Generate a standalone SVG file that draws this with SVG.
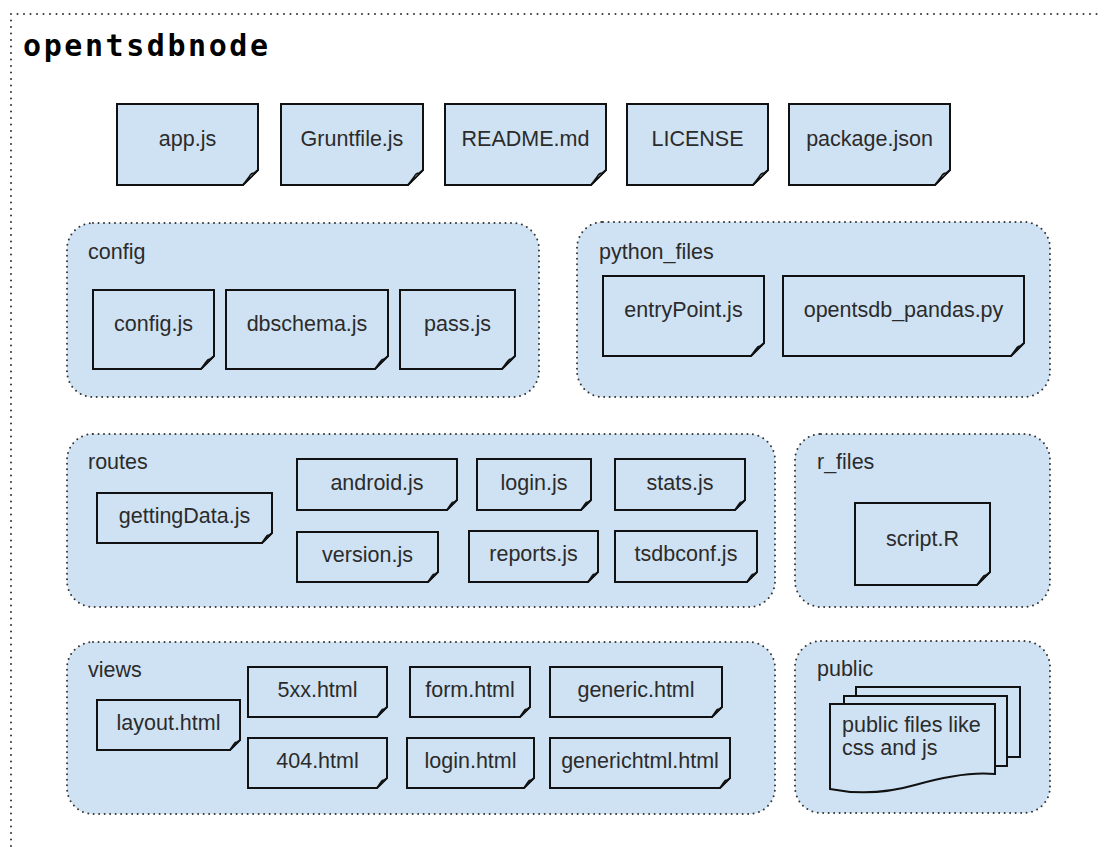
<svg xmlns="http://www.w3.org/2000/svg" width="1103" height="852" viewBox="0 0 1103 852">
<style>
.c{fill:#cfe2f3;stroke:#333;stroke-width:2;stroke-dasharray:0 5.5;stroke-linecap:round}
.f{fill:#cfe2f3;stroke:#111;stroke-width:2}
.fd{fill:#e4eef8;stroke:#111;stroke-width:1.5;stroke-linejoin:round}
.t{font-family:"Liberation Sans",Arial,sans-serif;font-size:21.5px;fill:#2b2b2b;text-anchor:middle}
.l{font-family:"Liberation Sans",Arial,sans-serif;font-size:21.5px;fill:#2b2b2b}
</style>
<rect width="1103" height="852" fill="#fff"/>
<g id="frame">
<path d="M11 14 H1103 M11 14 V852" fill="none" stroke="#333" stroke-width="2" stroke-dasharray="0 6.5" stroke-linecap="round"/>
<text x="23" y="56" font-family="DejaVu Sans Mono,monospace" font-weight="bold" font-size="30" textLength="245" lengthAdjust="spacing" fill="#000">opentsdbnode</text>
</g>
<g id="containers">
<g id="config"><rect class="c" x="67" y="223" width="472" height="174" rx="26"/><text class="l" x="88" y="259">config</text></g>
<g id="python_files"><rect class="c" x="577" y="222" width="473" height="175" rx="26"/><text class="l" x="599" y="259">python_files</text></g>
<g id="routes"><rect class="c" x="67" y="434" width="708" height="173" rx="26"/><text class="l" x="88" y="469">routes</text></g>
<g id="r_files"><rect class="c" x="795" y="434" width="255" height="173" rx="26"/><text class="l" x="817" y="469">r_files</text></g>
<g id="views"><rect class="c" x="67" y="642" width="708" height="172" rx="26"/><text class="l" x="88" y="677">views</text></g>
<g id="public"><rect class="c" x="795" y="641" width="255" height="172" rx="26"/><text class="l" x="817" y="676">public</text></g>
</g>
<g id="files">
<g id="app_js"><path class="f" d="M117 104H258V170L243 185H117Z"/><path class="fd" d="M243 185L249 177Q251 173 254 173L258 170Z"/><text class="t" x="187.5" y="146">app.js</text></g>
<g id="gruntfile_js"><path class="f" d="M281 104H423V170L408 185H281Z"/><path class="fd" d="M408 185L414 177Q416 173 419 173L423 170Z"/><text class="t" x="352" y="146">Gruntfile.js</text></g>
<g id="readme_md"><path class="f" d="M445 104H606V170L591 185H445Z"/><path class="fd" d="M591 185L597 177Q599 173 602 173L606 170Z"/><text class="t" x="525.5" y="146">README.md</text></g>
<g id="license"><path class="f" d="M627 104H768V170L753 185H627Z"/><path class="fd" d="M753 185L759 177Q761 173 764 173L768 170Z"/><text class="t" x="697.5" y="146">LICENSE</text></g>
<g id="package_json"><path class="f" d="M789 104H950V170L935 185H789Z"/><path class="fd" d="M935 185L941 177Q943 173 946 173L950 170Z"/><text class="t" x="869.5" y="146">package.json</text></g>

<g id="config_js"><path class="f" d="M93 290H214V356L201 369H93Z"/><path class="fd" d="M201 369L206 362Q208 359 210 359L214 356Z"/><text class="t" x="153.5" y="331">config.js</text></g>
<g id="dbschema_js"><path class="f" d="M226 290H388V356L375 369H226Z"/><path class="fd" d="M375 369L380 362Q382 359 384 359L388 356Z"/><text class="t" x="307" y="331">dbschema.js</text></g>
<g id="pass_js"><path class="f" d="M400 290H515V356L502 369H400Z"/><path class="fd" d="M502 369L507 362Q509 359 511 359L515 356Z"/><text class="t" x="457.5" y="331">pass.js</text></g>

<g id="entrypoint_js"><path class="f" d="M603 276H764V343L751 356H603Z"/><path class="fd" d="M751 356L756 349Q758 346 760 346L764 343Z"/><text class="t" x="683.5" y="317">entryPoint.js</text></g>
<g id="opentsdb_pandas_py"><path class="f" d="M783 276H1024V343L1011 356H783Z"/><path class="fd" d="M1011 356L1016 349Q1018 346 1020 346L1024 343Z"/><text class="t" x="903.5" y="317">opentsdb_pandas.py</text></g>

<g id="gettingdata_js"><path class="f" d="M97 493H272V533L262 543H97Z"/><path class="fd" d="M262 543L266 537Q267 535 269 535L272 533Z"/><text class="t" x="184.5" y="523">gettingData.js</text></g>
<g id="android_js"><path class="f" d="M297 459H457V500L447 510H297Z"/><path class="fd" d="M447 510L451 504Q452 502 454 502L457 500Z"/><text class="t" x="377" y="490">android.js</text></g>
<g id="login_js"><path class="f" d="M477 459H591V500L581 510H477Z"/><path class="fd" d="M581 510L585 504Q586 502 588 502L591 500Z"/><text class="t" x="534" y="490">login.js</text></g>
<g id="stats_js"><path class="f" d="M615 459H745V500L735 510H615Z"/><path class="fd" d="M735 510L739 504Q740 502 742 502L745 500Z"/><text class="t" x="680" y="490">stats.js</text></g>
<g id="version_js"><path class="f" d="M297 532H438V572L428 582H297Z"/><path class="fd" d="M428 582L432 576Q433 574 435 574L438 572Z"/><text class="t" x="367.5" y="562">version.js</text></g>
<g id="reports_js"><path class="f" d="M469 531H598V572L588 582H469Z"/><path class="fd" d="M588 582L592 576Q593 574 595 574L598 572Z"/><text class="t" x="533.5" y="561">reports.js</text></g>
<g id="tsdbconf_js"><path class="f" d="M615 531H757V572L747 582H615Z"/><path class="fd" d="M747 582L751 576Q752 574 754 574L757 572Z"/><text class="t" x="686" y="561">tsdbconf.js</text></g>

<g id="script_r"><path class="f" d="M855 503H990V572L977 585H855Z"/><path class="fd" d="M977 585L982 578Q984 575 986 575L990 572Z"/><text class="t" x="922.5" y="546">script.R</text></g>

<g id="layout_html"><path class="f" d="M97 700H240V740L230 750H97Z"/><path class="fd" d="M230 750L234 744Q235 742 237 742L240 740Z"/><text class="t" x="168.5" y="730">layout.html</text></g>
<g id="5xx_html"><path class="f" d="M248 667H387V707L377 717H248Z"/><path class="fd" d="M377 717L381 711Q382 709 384 709L387 707Z"/><text class="t" x="317.5" y="697">5xx.html</text></g>
<g id="form_html"><path class="f" d="M410 667H530V707L520 717H410Z"/><path class="fd" d="M520 717L524 711Q525 709 527 709L530 707Z"/><text class="t" x="470" y="697">form.html</text></g>
<g id="generic_html"><path class="f" d="M550 667H722V707L712 717H550Z"/><path class="fd" d="M712 717L716 711Q717 709 719 709L722 707Z"/><text class="t" x="636" y="697">generic.html</text></g>
<g id="404_html"><path class="f" d="M248 738H387V778L377 788H248Z"/><path class="fd" d="M377 788L381 782Q382 780 384 780L387 778Z"/><text class="t" x="317.5" y="768">404.html</text></g>
<g id="login_html"><path class="f" d="M407 738H534V778L524 788H407Z"/><path class="fd" d="M524 788L528 782Q529 780 531 780L534 778Z"/><text class="t" x="470.5" y="768">login.html</text></g>
<g id="generichtml_html"><path class="f" d="M550 738H730V778L720 788H550Z"/><path class="fd" d="M720 788L724 782Q725 780 727 780L730 778Z"/><text class="t" x="640" y="768">generichtml.html</text></g>

<g id="public_files">
<rect class="f" x="856" y="687" width="164" height="70"/>
<rect class="f" x="844" y="696" width="163" height="70"/>
<path class="f" d="M830 704H995V774C975 772 950 775 915 785C880 795 850 793 830 789Z"/>
<text class="l" x="842" y="732">public files like</text>
<text class="l" x="842" y="755">css and js</text>
</g>
</g>
<g id="connectors"/>
</svg>
